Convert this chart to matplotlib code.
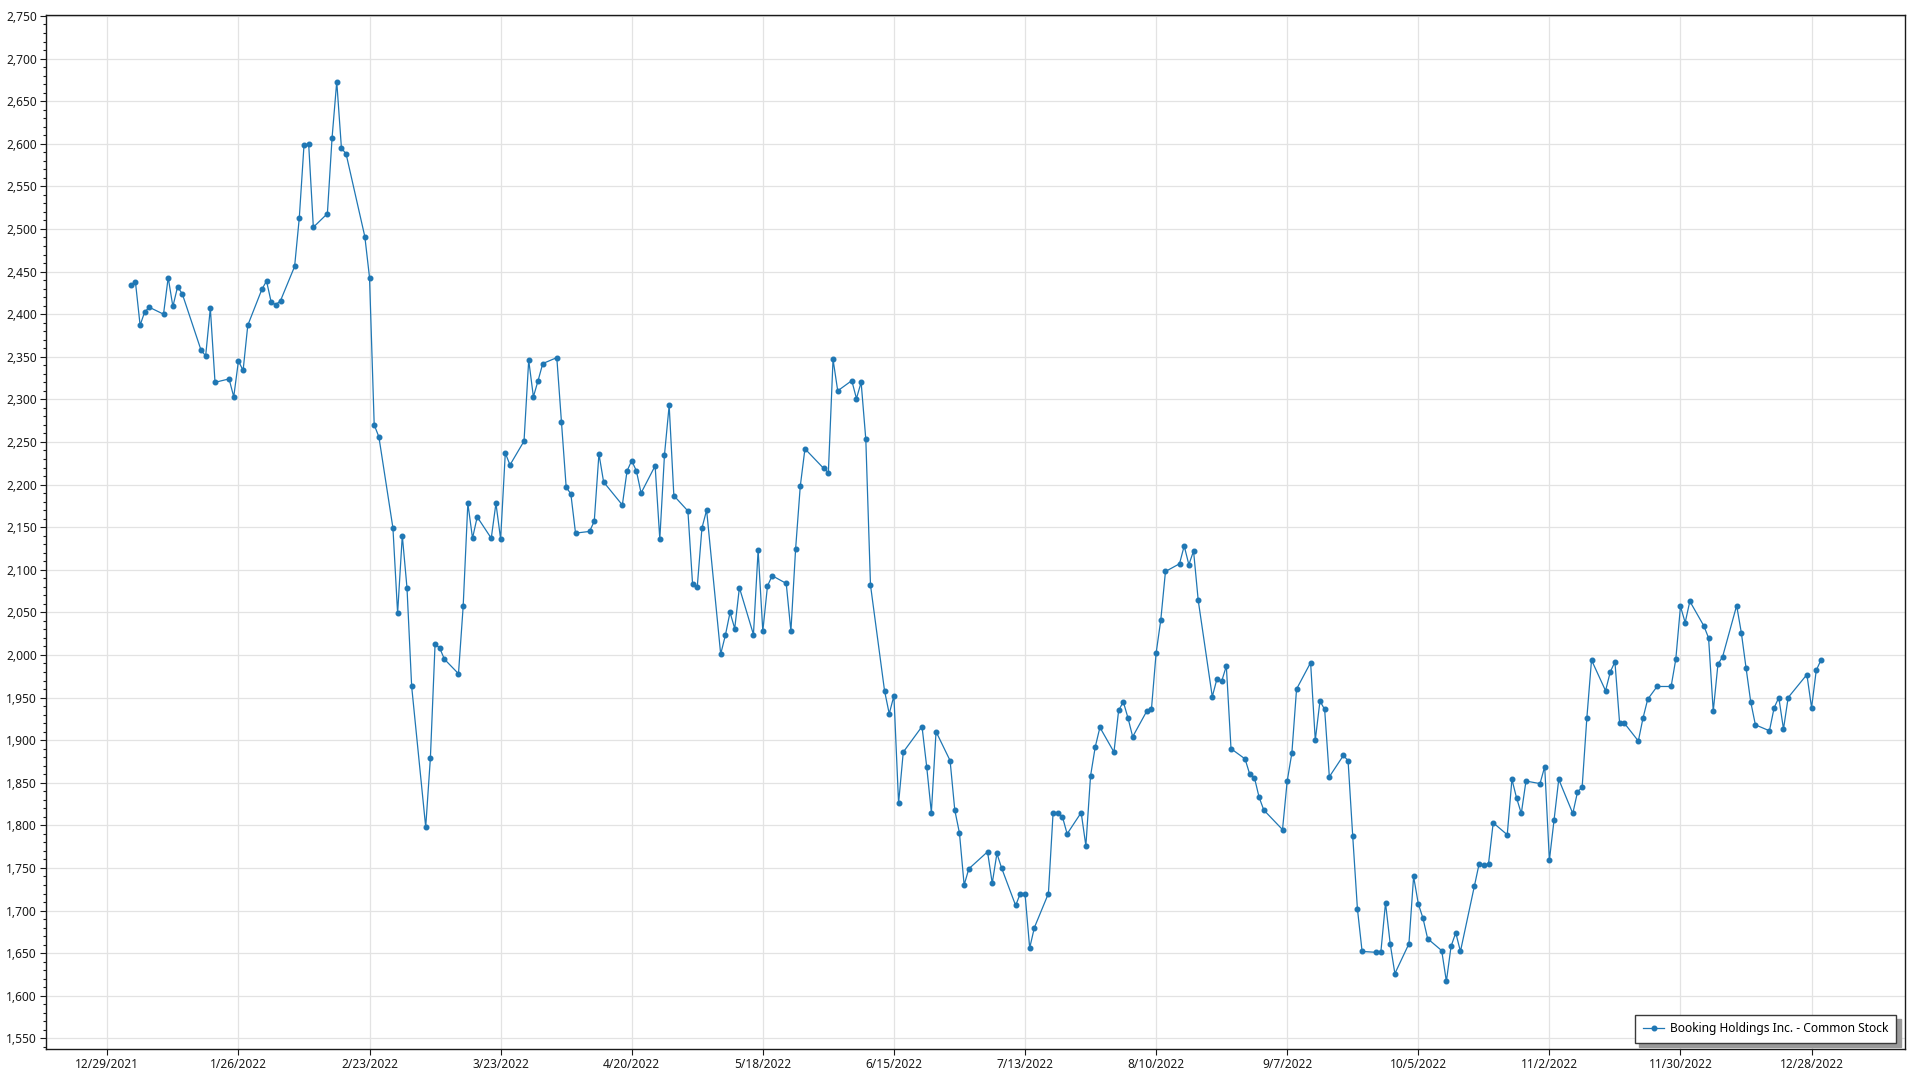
"""Booking Holdings (BKNG) daily close, 2022 - line chart with point markers."""
import datetime as dt

import matplotlib
matplotlib.use("Agg")
import matplotlib.dates as mdates
import matplotlib.pyplot as plt
from matplotlib.ticker import FuncFormatter, MultipleLocator

SERIES_NAME = "Booking Holdings Inc. - Common Stock"
YEAR = 2022

# trading days (day of month) and closing prices, per month
jan_days = [3, 4, 5, 6, 7, 10, 11, 12, 13, 14, 18, 19, 20, 21, 24, 25, 26, 27, 28, 31]
jan_close = [2434, 2438, 2387, 2403, 2408, 2400, 2443, 2409, 2432, 2424,
             2358, 2351, 2407, 2320, 2324, 2303, 2345, 2334, 2387, 2429]
feb_days = [1, 2, 3, 4, 7, 8, 9, 10, 11, 14, 15, 16, 17, 18, 22, 23, 24, 25, 28]
feb_close = [2439, 2414, 2411, 2416, 2456, 2513, 2598, 2600, 2502, 2518,
             2607, 2673, 2595, 2588, 2491, 2443, 2270, 2256, 2149]
mar_days = [1, 2, 3, 4, 7, 8, 9, 10, 11, 14, 15, 16, 17, 18, 21, 22, 23, 24, 25,
            28, 29, 30, 31]
mar_close = [2049, 2140, 2079, 1963, 1798, 1879, 2013, 2008, 1995, 1978,
             2057, 2178, 2137, 2162, 2137, 2178, 2136, 2237, 2223, 2251,
             2346, 2303, 2322]
apr_days = [1, 4, 5, 6, 7, 8, 11, 12, 13, 14, 18, 19, 20, 21, 22, 25, 26, 27, 28, 29]
apr_close = [2342, 2349, 2273, 2197, 2189, 2143, 2145, 2157, 2236, 2203,
             2176, 2216, 2228, 2216, 2190, 2222, 2136, 2235, 2293, 2187]
may_days = [2, 3, 4, 5, 6, 9, 10, 11, 12, 13, 16, 17, 18, 19, 20, 23, 24, 25, 26,
            27, 31]
may_close = [2169, 2083, 2080, 2149, 2170, 2001, 2023, 2050, 2031, 2079,
             2024, 2123, 2028, 2081, 2093, 2084, 2028, 2124, 2198, 2242, 2219]
jun_days = [1, 2, 3, 6, 7, 8, 9, 10, 13, 14, 15, 16, 17, 21, 22, 23, 24, 27, 28,
            29, 30]
jun_close = [2214, 2347, 2310, 2322, 2301, 2320, 2253, 2082, 1958, 1931,
             1952, 1826, 1886, 1916, 1869, 1815, 1910, 1876, 1818, 1791, 1730]
jul_days = [1, 5, 6, 7, 8, 11, 12, 13, 14, 15, 18, 19, 20, 21, 22, 25, 26, 27, 28, 29]
jul_close = [1749, 1769, 1732, 1767, 1750, 1706, 1720, 1720, 1656, 1680,
             1720, 1815, 1815, 1810, 1790, 1815, 1776, 1858, 1892, 1915]
aug_days = [1, 2, 3, 4, 5, 8, 9, 10, 11, 12, 15, 16, 17, 18, 19, 22, 23, 24, 25,
            26, 29, 30, 31]
aug_close = [1886, 1935, 1945, 1926, 1904, 1934, 1936, 2002, 2041, 2098,
             2107, 2128, 2106, 2122, 2064, 1951, 1972, 1969, 1987, 1890,
             1878, 1860, 1856]
sep_days = [1, 2, 6, 7, 8, 9, 12, 13, 14, 15, 16, 19, 20, 21, 22, 23, 26, 27, 28,
            29, 30]
sep_close = [1833, 1818, 1795, 1852, 1885, 1960, 1991, 1900, 1946, 1936,
             1857, 1882, 1876, 1787, 1702, 1652, 1651, 1651, 1709, 1661, 1626]
oct_days = [3, 4, 5, 6, 7, 10, 11, 12, 13, 14, 17, 18, 19, 20, 21, 24, 25, 26, 27,
            28, 31]
oct_close = [1661, 1740, 1708, 1691, 1667, 1653, 1617, 1658, 1674, 1652,
             1729, 1755, 1753, 1755, 1803, 1789, 1854, 1832, 1814, 1852, 1849]
nov_days = [1, 2, 3, 4, 7, 8, 9, 10, 11, 14, 15, 16, 17, 18, 21, 22, 23, 25, 28,
            29, 30]
nov_close = [1869, 1759, 1806, 1854, 1814, 1839, 1845, 1926, 1994, 1958,
             1980, 1992, 1920, 1920, 1899, 1926, 1948, 1963, 1963, 1995, 2057]
dec_days = [1, 2, 5, 6, 7, 8, 9, 12, 13, 14, 15, 16, 19, 20, 21, 22, 23, 27, 28,
            29, 30]
dec_close = [2038, 2063, 2034, 2020, 1934, 1989, 1998, 2058, 2026, 1985,
             1945, 1918, 1911, 1938, 1950, 1913, 1950, 1977, 1938, 1982, 1994]

# x tick dates (every 4 weeks) and y range
x_ticks = ["2021-12-29", "2022-01-26", "2022-02-23", "2022-03-23", "2022-04-20",
           "2022-05-18", "2022-06-15", "2022-07-13", "2022-08-10", "2022-09-07",
           "2022-10-05", "2022-11-02", "2022-11-30", "2022-12-28"]
y_ticks = list(range(1550, 2751, 50))


def main():
    months = [(jan_days, jan_close), (feb_days, feb_close), (mar_days, mar_close),
              (apr_days, apr_close), (may_days, may_close), (jun_days, jun_close),
              (jul_days, jul_close), (aug_days, aug_close), (sep_days, sep_close),
              (oct_days, oct_close), (nov_days, nov_close), (dec_days, dec_close)]
    dates, close = [], []
    for m, (days, vals) in enumerate(months, start=1):
        dates += [dt.datetime(YEAR, m, d) for d in days]
        close += vals

    plt.rcParams["font.family"] = ["Noto Sans", "DejaVu Sans"]
    fig = plt.figure(figsize=(19.2, 10.8), dpi=100)
    ax = fig.add_axes([0.0242, 0.0283, 0.9681, 0.9581])

    ax.plot(dates, close, "-o", color="#1f77b4", lw=0.9, ms=3.3,
            label=SERIES_NAME, zorder=3)

    ax.set_xlim(dt.datetime(2021, 12, 16), dt.datetime(2023, 1, 17))
    ax.set_ylim(1537, 2751.5)
    ax.set_xticks([dt.datetime.fromisoformat(s) for s in x_ticks])
    ax.xaxis.set_major_formatter(FuncFormatter(
        lambda v, _: (lambda d: f"{d.month}/{d.day}/{d.year}")(mdates.num2date(v))))
    ax.set_yticks(y_ticks)
    ax.yaxis.set_minor_locator(MultipleLocator(10))
    ax.yaxis.set_major_formatter(FuncFormatter(lambda v, _: f"{v:,.0f}"))

    ax.grid(True, which="major", color="#e3e3e3", lw=0.9, zorder=0)
    ax.set_axisbelow(True)
    for s in ax.spines.values():
        s.set_color("#1a1a1a")
        s.set_linewidth(1.0)
    ax.tick_params(axis="both", which="major", length=4, width=0.8,
                   labelsize=8.6, colors="#1a1a1a", pad=3)
    ax.tick_params(axis="y", which="minor", length=2.5, width=0.8, colors="#1a1a1a")
    ax.tick_params(axis="x", which="major", pad=2.5)

    leg = ax.legend(loc="lower right", fontsize=8.6, frameon=True, fancybox=False,
                    shadow={"color": "#9a9a9a", "alpha": 1.0, "ox": 3, "oy": -3},
                    borderpad=0.65, handlelength=1.8, handletextpad=0.5,
                    borderaxespad=0, bbox_to_anchor=(0.9953, 0.006))
    leg.get_frame().set_edgecolor("#3a3a3a")
    leg.get_frame().set_linewidth(1.0)

    fig.savefig("out.png", dpi=100)


if __name__ == "__main__":
    main()
